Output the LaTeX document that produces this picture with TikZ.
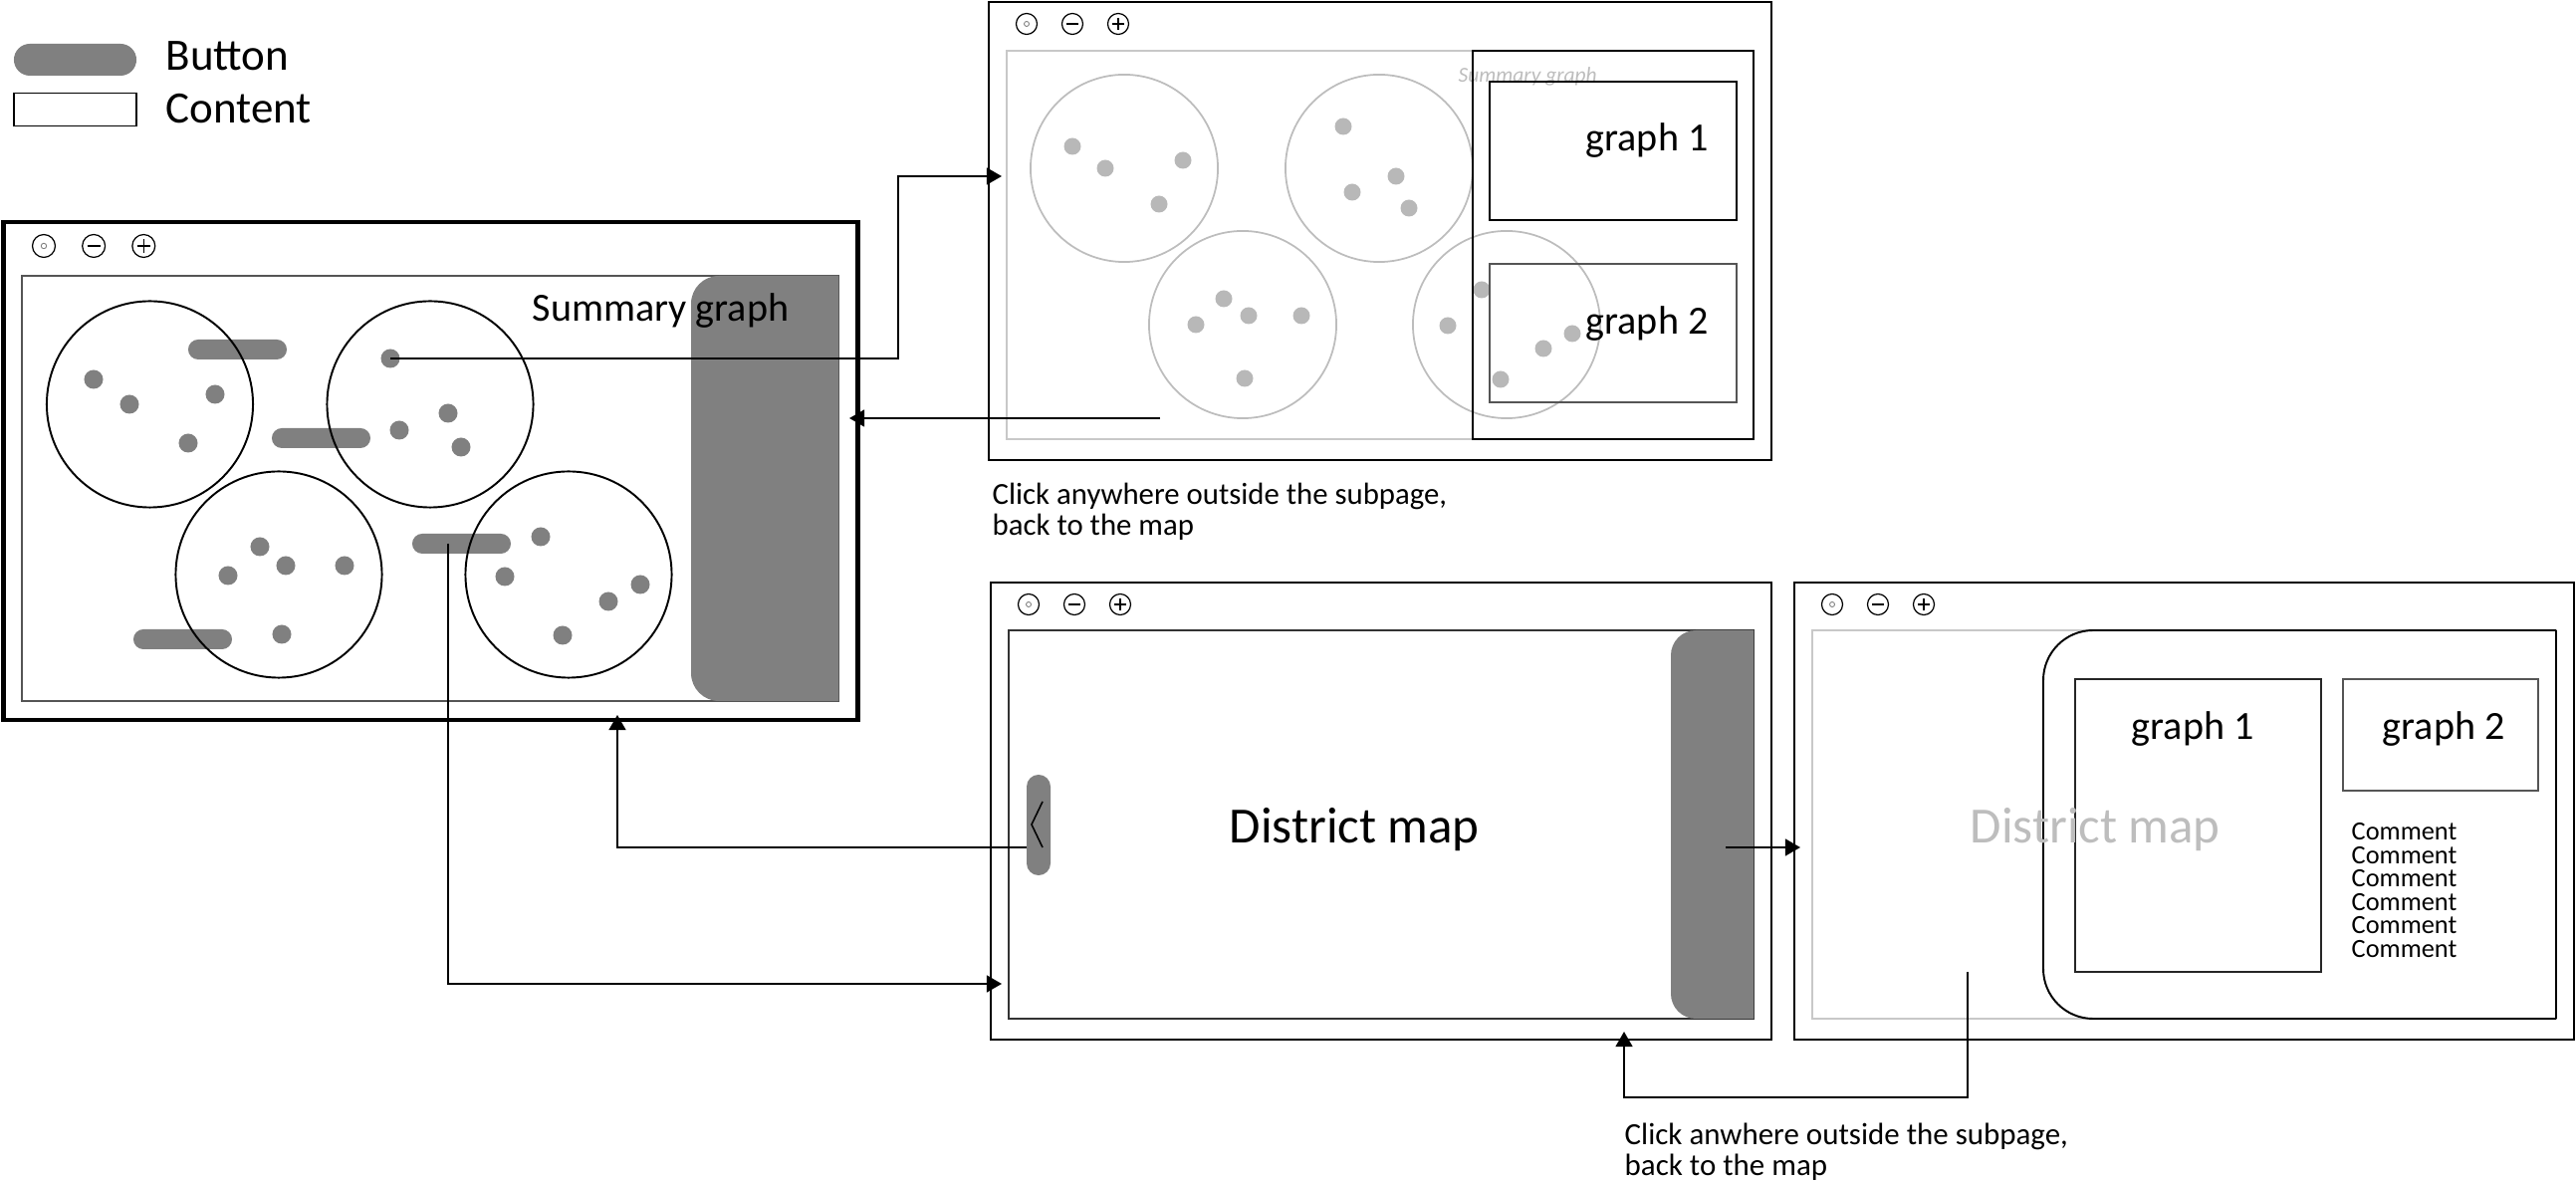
\documentclass[tikz,border=0pt]{standalone}
\usepackage{fontspec}
\setmainfont{Carlito}
\usetikzlibrary{arrows.meta}
\definecolor{btngray}{HTML}{808080}
\definecolor{ltgray}{HTML}{BDBDBD}
\definecolor{dotlt}{HTML}{B8B8B8}
\definecolor{rimgray}{HTML}{C8C8C8}
\definecolor{boxgray}{HTML}{555555}
\begin{document}
\begin{tikzpicture}[x=0.01cm,y=-0.01cm,
  win/.style={draw=black, line width=0.65pt, rectangle, inner sep=0, outer sep=0},
  innerbox/.style={draw=#1, line width=0.45pt, rectangle, inner sep=0, outer sep=0},
  pill/.style={fill=btngray, rectangle, rounded corners=0.1cm, minimum width=0.99cm, minimum height=0.2cm, inner sep=0},
  dotd/.style={fill=btngray, circle, minimum size=0.19cm, inner sep=0},
  dotl/.style={fill=dotlt, circle, minimum size=0.17cm, inner sep=0},
  bigc/.style={draw=black, line width=0.55pt, circle, minimum size=2.07cm, inner sep=0},
  ltc/.style={draw=ltgray, line width=0.5pt, circle, minimum size=1.88cm, inner sep=0},
  arr/.style={line width=0.6pt, -{Triangle[length=4.3pt,width=4.8pt]}},
  txt/.style={inner sep=0, anchor=base west},
  ctrls/.pic={
    \draw[line width=0.35pt] (0,0) circle[radius=0.105cm];
    \draw[gray, line width=0.25pt] (0,0) circle[radius=0.025cm];
    \draw[line width=0.35pt] (46,0) circle[radius=0.105cm];
    \draw[line width=0.35pt] (40,0) -- (52,0);
    \draw[line width=0.35pt] (92,0) circle[radius=0.105cm];
    \draw[line width=0.35pt] (86,0) -- (98,0) (92,-6) -- (92,6);
  }
]
\useasboundingbox (0,0) rectangle (2587,1186);

% ---------- legend ----------
\node[pill, rounded corners=0.16cm, minimum width=1.23cm, minimum height=0.32cm] (legbtn) at (75.5,60) {};
\node[innerbox=black, line width=0.55pt, minimum width=1.23cm, minimum height=0.33cm] (legcont) at (75.5,110) {};
\node[txt, font=\fontsize{12.8pt}{15pt}\selectfont] (lbtn) at (166,71) {Button};
\node[txt, font=\fontsize{12.8pt}{15pt}\selectfont] (lcont) at (166,124) {Content};

% ---------- window 1: main map ----------
\node[win, line width=1.3pt, minimum width=8.57cm, minimum height=5.00cm] (win1) at (432.5,473) {};
\pic[scale=1.09] at (44,247) {ctrls};
\node[innerbox=boxgray, minimum width=8.20cm, minimum height=4.27cm] (in1) at (432,490.5) {};
\begin{scope}
  \clip (694,277) rectangle (842,704);
  \fill[btngray, rounded corners=0.28cm] (694,277) rectangle (900,704);
\end{scope}
\node[pill] (btnA) at (238.5,351) {};
\node[pill] (btnB) at (322.5,440) {};
\node[pill] (btnC) at (463.5,546) {};
\node[pill] (btnD) at (183.5,642) {};
\node[bigc] (c1) at (150.5,406) {};
\node[bigc] (c2) at (432,406) {};
\node[bigc] (c3) at (280,577) {};
\node[bigc] (c4) at (571,577) {};
\foreach \n/\p in {a1/{94,381},a2/{130,406},a3/{216,396},a4/{189,445},
                   b2/{450,415},b3/{401,432},b4/{463,449},
                   d1/{261,549},d2/{287,568},d3/{229,578},d4/{346,568},d5/{283,637},
                   e1/{543,539},e2/{507,579},e3/{643,587},e4/{611,604},e5/{565,638}}
  \node[dotd] (dot\n) at (\p) {};
\node[dotd] (dotA) at (392,360) {};
\node[txt, font=\fontsize{11.4pt}{13pt}\selectfont] (sumg) at (534,323) {Summary graph};

% ---------- window 2: summary graph subpage ----------
\node[win, minimum width=7.86cm, minimum height=4.60cm] (win2) at (1386,232) {};
\pic at (1031,24) {ctrls};
\node[innerbox=rimgray, minimum width=7.50cm, minimum height=3.90cm] (in2) at (1386,246) {};
\node[ltc] (s1) at (1129,169) {};
\node[ltc] (s2) at (1385,169) {};
\node[ltc] (s3) at (1248,326) {};
\node[ltc] (s4) at (1513,326) {};
\foreach \n/\p in {a1/{1077,147},a2/{1110,169},a3/{1188,161},a4/{1164,205},
                   b1/{1349,127},b2/{1402,177},b3/{1358,193},b4/{1415,209},
                   d1/{1229,300},d2/{1254,317},d3/{1201,326},d4/{1307,317},d5/{1250,380},
                   e1/{1488,291},e2/{1454,327},e3/{1579,335},e4/{1550,350},e5/{1507,381}}
  \node[dotl] (ld\n) at (\p) {};
\node[txt, anchor=west, text=ltgray, font=\fontsize{6.1pt}{7pt}\selectfont\itshape] (sumsmall) at (1464,77) {Summary graph};
\node[innerbox=black, line width=0.5pt, minimum width=2.82cm, minimum height=3.90cm] (pan2) at (1620,246) {};
\node[innerbox=black, minimum width=2.48cm, minimum height=1.39cm] (g1a) at (1620,151.5) {};
\node[innerbox=boxgray, minimum width=2.48cm, minimum height=1.39cm] (g2a) at (1620,334.5) {};
\node[txt, font=\fontsize{11.4pt}{13pt}\selectfont] (g1at) at (1592,152) {graph 1};
\node[txt, font=\fontsize{11.4pt}{13pt}\selectfont] (g2at) at (1592,336) {graph 2};
\node[txt, font=\fontsize{8.75pt}{10pt}\selectfont] (note1a) at (996,507) {Click anywhere outside the subpage,};
\node[txt, font=\fontsize{8.75pt}{10pt}\selectfont] (note1b) at (996,538) {back to the map};

% ---------- window 3: district map ----------
\node[win, minimum width=7.84cm, minimum height=4.59cm] (win3) at (1387,814.5) {};
\pic at (1033,607) {ctrls};
\node[innerbox=black!80, minimum width=7.48cm, minimum height=3.90cm] (in3) at (1387,828) {};
\begin{scope}
  \clip (1678,633) rectangle (1761,1023);
  \fill[btngray, rounded corners=0.25cm] (1678,633) rectangle (1800,1023);
\end{scope}
\node[pill, rounded corners=0.12cm, minimum width=0.24cm, minimum height=1.01cm] (backbtn) at (1043,828.5) {};
\draw[line width=0.45pt] (1047,805) -- (1036,828) -- (1047,851);
\node[txt, font=\fontsize{14.5pt}{17pt}\selectfont] (dm3) at (1234,847) {District map};

% ---------- window 4: district subpage ----------
\node[win, minimum width=7.83cm, minimum height=4.59cm] (win4) at (2193.5,814.5) {};
\pic at (1840,607) {ctrls};
\node[innerbox=rimgray, minimum width=7.47cm, minimum height=3.90cm] (in4) at (2193.5,828) {};
\begin{scope}
  \clip (2040,620) rectangle (2567,1040);
  \draw[line width=0.55pt, rounded corners=0.5cm] (2052,633) rectangle (2700,1023);
\end{scope}
\draw[line width=0.55pt] (2567,633) -- (2567,1023);
\node[innerbox=black!85, minimum width=2.47cm, minimum height=2.94cm] (g1b) at (2207.5,829) {};
\node[innerbox=boxgray, minimum width=1.96cm, minimum height=1.12cm] (g2b) at (2451,738) {};
\node[txt, text=ltgray, font=\fontsize{14.5pt}{17pt}\selectfont] (dm4) at (1978,847) {District map};
\node[txt, font=\fontsize{11.4pt}{13pt}\selectfont] (g1bt) at (2140,743) {graph 1};
\node[txt, font=\fontsize{11.4pt}{13pt}\selectfont] (g2bt) at (2392,743) {graph 2};
\foreach \i/\yy in {1/844,2/867.5,3/891,4/914.5,5/938,6/961.5}
  \node[txt, font=\fontsize{7.5pt}{9pt}\selectfont] (cm\i) at (2361,\yy) {Comment};
\node[txt, font=\fontsize{8.8pt}{10pt}\selectfont] (note2a) at (1631,1150) {Click anwhere outside the subpage,};
\node[txt, font=\fontsize{8.8pt}{10pt}\selectfont] (note2b) at (1631,1181) {back to the map};

% ---------- connectors ----------
\coordinate (t1) at (1006,177);
\coordinate (s2c) at (1165,420);
\coordinate (t2) at (853,420);
\coordinate (s3c) at (1031,851);
\coordinate (t3) at (620,718);
\coordinate (t4) at (1006,988);
\coordinate (s5c) at (1733,851);
\coordinate (t5) at (1808,851);
\coordinate (s6c) at (1976,976);
\coordinate (t6) at (1631,1036);

\draw[arr] (dotA.center) -- (902,360) |- (t1);
\draw[arr] (s2c) -- (t2);
\draw[arr] (s3c) -| (t3);
\draw[arr] ([xshift=-0.135cm]btnC.center) |- (t4);
\draw[arr] (s5c) -- (t5);
\draw[arr] (s6c) -- (1976,1102) -| (t6);
\end{tikzpicture}
\end{document}
